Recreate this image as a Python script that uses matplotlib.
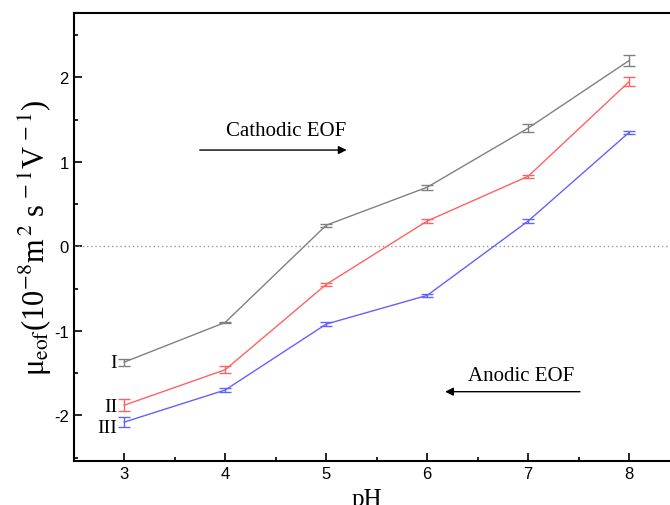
import numpy as np
import matplotlib
matplotlib.use('Agg')
import matplotlib.pyplot as plt
from matplotlib.ticker import MultipleLocator

plt.rcParams['mathtext.fontset'] = 'stix'
plt.rcParams['axes.unicode_minus'] = False

# data
ph = [3, 4, 5, 6, 7, 8]
mu_I = [-1.37, -0.90, 0.25, 0.70, 1.40, 2.20]
err_I = [0.04, 0.01, 0.02, 0.03, 0.05, 0.07]
mu_II = [-1.88, -1.46, -0.45, 0.30, 0.83, 1.95]
err_II = [0.07, 0.04, 0.02, 0.02, 0.02, 0.05]
mu_III = [-2.08, -1.70, -0.92, -0.58, 0.30, 1.35]
err_III = [0.06, 0.02, 0.02, 0.02, 0.02, 0.02]

series = [(mu_I, err_I, '#808080', 'I'),
          (mu_II, err_II, '#ff6262', 'II'),
          (mu_III, err_III, '#6262ff', 'III')]
label_y = [-1.37, -1.89, -2.14]

fig = plt.figure(figsize=(6.7, 5.06), dpi=100)
ax = fig.add_axes([0.110, 0.087, 0.9045, 0.885])

ax.axhline(0, color='#999999', lw=1, ls=(0, (1, 2)))

for (y, e, c, name), ly in zip(series, label_y):
    ax.errorbar(ph, y, yerr=e, color=c, lw=1, capsize=4, capthick=1, elinewidth=1)
    ax.text(2.93, ly, name, ha='right', va='center', fontsize=14,
            family='Liberation Serif')

# flow direction arrows
ax.annotate('', xy=(5.23, 1.14), xytext=(3.72, 1.14),
            arrowprops=dict(arrowstyle='-|>', color='black', lw=1, mutation_scale=12))
ax.text(4.6, 1.37, 'Cathodic EOF', ha='center', va='center', fontsize=15,
        family='Liberation Serif')
ax.annotate('', xy=(6.15, -1.72), xytext=(7.54, -1.72),
            arrowprops=dict(arrowstyle='-|>', color='black', lw=1, mutation_scale=12))
ax.text(6.93, -1.53, 'Anodic EOF', ha='center', va='center', fontsize=15,
        family='Liberation Serif')

ax.set_xlim(2.5, 8.5)
ax.set_ylim(-2.54, 2.76)
ax.xaxis.set_major_locator(MultipleLocator(1))
ax.xaxis.set_minor_locator(MultipleLocator(0.5))
ax.yaxis.set_major_locator(MultipleLocator(1))
ax.yaxis.set_minor_locator(MultipleLocator(0.5))
ax.tick_params(which='both', direction='in', top=False, right=False,
               labelsize=12, width=1.2)
ax.tick_params(which='major', length=6)
ax.tick_params(which='minor', length=3)
for lab in ax.get_xticklabels() + ax.get_yticklabels():
    lab.set_family('Liberation Sans')
for sp in ax.spines.values():
    sp.set_linewidth(1.5)

ax.set_xlabel('pH', fontsize=18, family='Liberation Serif', labelpad=6)
ax.xaxis.set_label_coords(0.484, -0.06, transform=ax.transAxes)
ax.xaxis.label.set_va('top')
ax.set_ylabel('μ$_{\\rm eof}$(10$^{-8}$m$^{\\,2}$ s$^{\\,-1}$V$^{\\,-1}$)', fontsize=22,
              family='Liberation Serif', labelpad=0)

fig.savefig('out.png', dpi=100)
